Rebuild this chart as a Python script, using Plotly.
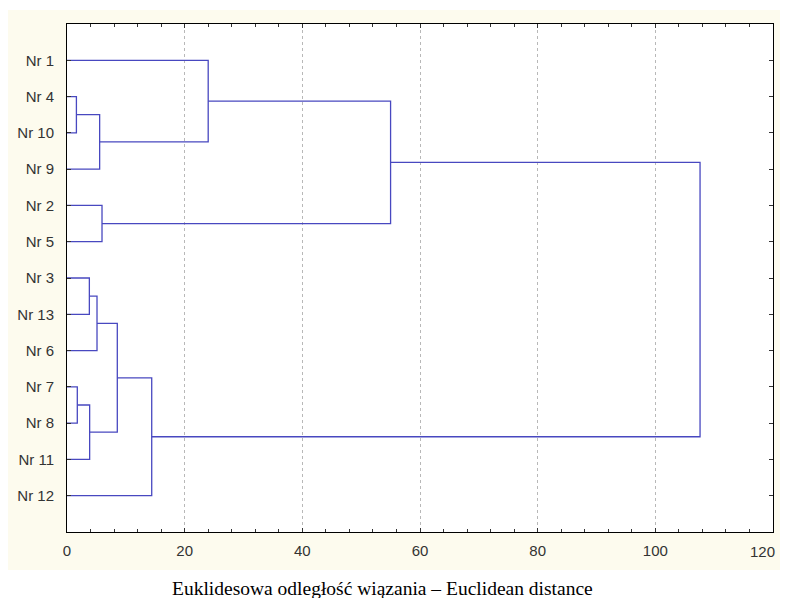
import plotly.graph_objects as go

# ---- data ----
leaf_labels = ["Nr 1", "Nr 4", "Nr 10", "Nr 9", "Nr 2", "Nr 5", "Nr 3",
               "Nr 13", "Nr 6", "Nr 7", "Nr 8", "Nr 11", "Nr 12"]
merge_a = ["Nr 4", "C1", "Nr 1", "Nr 2", "C3", "Nr 3", "C6", "Nr 7", "C8", "C7", "C10", "C5"]
merge_b = ["Nr 10", "Nr 9", "C2", "Nr 5", "C4", "Nr 13", "Nr 6", "Nr 8", "Nr 11", "C9", "Nr 12", "C11"]
merge_dist = [1.6, 5.55, 24.0, 5.95, 55.0, 3.8, 5.1, 1.75, 3.85, 8.55, 14.4, 107.6]
x_ticks = [0, 20, 40, 60, 80, 100, 120]
x_title = "Euklidesowa odległość wiązania – Euclidean distance"

# ---- build dendrogram segments ----
pos = {name: i + 1 for i, name in enumerate(leaf_labels)}
hgt = {name: 0.0 for name in leaf_labels}
xs, ys = [], []
for k, (a, b, d) in enumerate(zip(merge_a, merge_b, merge_dist), start=1):
    xs += [hgt[a], d, d, hgt[b], None]
    ys += [pos[a], pos[a], pos[b], pos[b], None]
    cid = "C%d" % k
    pos[cid] = (pos[a] + pos[b]) / 2.0
    hgt[cid] = d

LINE = "#4848c0"
fig = go.Figure()
fig.add_trace(go.Scatter(x=xs, y=ys, mode="lines",
                         line=dict(color=LINE, width=1.3),
                         hoverinfo="skip", showlegend=False))

W, H = 780, 590
ML, MR, MT, MB = 59, 15, 16, 66
PW, PH = W - ML - MR, H - MT - MB

def px(xp):  # figure pixel -> paper x
    return (xp - ML) / PW

def py(yp):  # figure pixel -> paper y
    return (H - MB - yp) / PH

# last tick label is placed as an annotation so it is not clipped at the page edge
x_ticktext = [str(v) for v in x_ticks[:-1]] + [""]

tickfont = dict(family="Liberation Sans, Arial, sans-serif", size=15, color="#333333")
fig.update_layout(
    width=W, height=H,
    margin=dict(l=ML, r=MR, t=MT, b=MB),
    paper_bgcolor="white",
    plot_bgcolor="white",
    showlegend=False,
    xaxis=dict(
        range=[0, 120], tickvals=x_ticks, ticktext=x_ticktext,
        showgrid=True, gridcolor="#b8b8b8", griddash="dot", gridwidth=1,
        zeroline=False, showline=True, linecolor="black", linewidth=1,
        mirror="ticks", ticks="inside", ticklen=4, tickcolor="#333333",
        minor=dict(dtick=4, tick0=0, ticks="inside", ticklen=3, tickcolor="#333333"),
        tickfont=tickfont, ticklabelstandoff=5, automargin=False,
    ),
    yaxis=dict(
        range=[14, 0], tickvals=list(range(1, len(leaf_labels) + 1)),
        ticktext=leaf_labels, showgrid=False, zeroline=False,
        showline=True, linecolor="black", linewidth=1,
        mirror="ticks", ticks="inside", ticklen=4, tickcolor="#333333",
        tickfont=tickfont, ticklabelstandoff=9, automargin=False,
    ),
    shapes=[
        dict(type="rect", xref="paper", yref="paper", layer="below",
             x0=px(0), x1=px(W + 10), y0=py(562), y1=py(2),
             fillcolor="#fdfbee", line=dict(width=0)),
        dict(type="rect", xref="paper", yref="paper", layer="below",
             x0=0, x1=1, y0=0, y1=1,
             fillcolor="white", line=dict(width=0)),
    ],
    annotations=[
        dict(text=x_title, xref="paper", yref="paper", x=px(374), y=py(580),
             xanchor="center", yanchor="middle", showarrow=False,
             font=dict(family="Liberation Serif, Times New Roman, serif", size=19.5, color="black")),
        dict(text=str(x_ticks[-1]), xref="x", yref="paper", x=x_ticks[-1], y=py(543),
             xanchor="right", yanchor="middle", xshift=4, showarrow=False,
             font=tickfont),
    ],
)

fig.write_html("out.html")
